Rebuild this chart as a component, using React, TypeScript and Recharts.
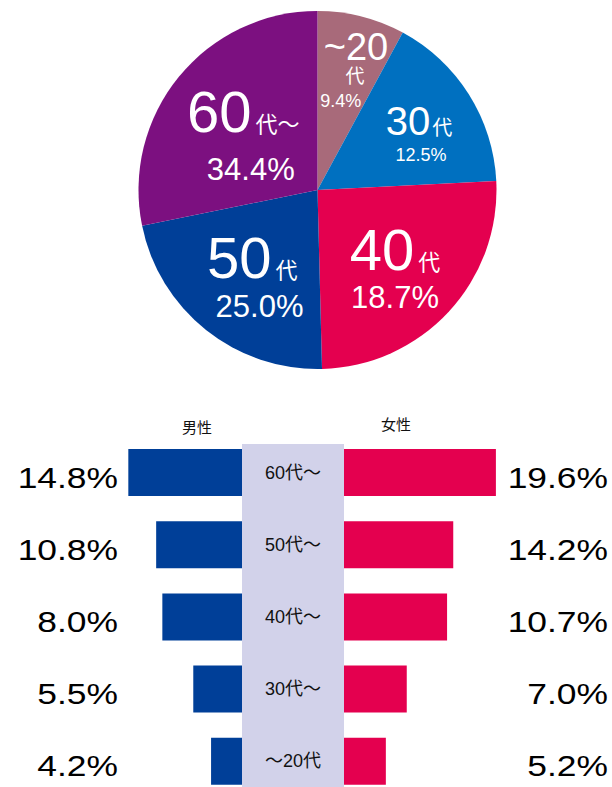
import React from "react";
import { PieChart, Pie, Cell, BarChart, Bar, XAxis, YAxis } from "recharts";

// pie: slice sizes as drawn, and the label texts printed on them
const pieNums = ["~20", "30", "40", "50", "60"];
const pieSuffix = ["代", "代", "代", "代", "代～"];
const pieShare = [7.9, 16.3, 25.4, 22.2, 28.2];
const pieText = ["9.4%", "12.5%", "18.7%", "25.0%", "34.4%"];

// butterfly bars (top row first)
const ageGroups = ["60代～", "50代～", "40代～", "30代～", "～20代"];
const maleBar = [14.7, 11.1, 10.3, 6.3, 4.0];
const femaleBar = [19.6, 14.1, 13.3, 8.1, 5.4];
const maleText = ["14.8%", "10.8%", "8.0%", "5.5%", "4.2%"];
const femaleText = ["19.6%", "14.2%", "10.7%", "7.0%", "5.2%"];

const FONT = "'Liberation Sans', Arial, 'Noto Sans CJK JP', sans-serif";
const pieColors = ["#A86A7A", "#0070C0", "#E4004F", "#003F98", "#7C1080"];
const MALE = "#003F98";
const FEMALE = "#E4004F";
const BAND = "#D2D2EA";

// label placement relative to the pie centre
const pieLabelLayout = [
  { x: 38.5, y: -130, num: 38, suf: 19, sx: 37.5, sy: -107, px: 23.3, py: -83, pct: 18 },
  { x: 101.5, y: -55, num: 40, suf: 20, gap: 2, px: 103.5, py: -29, pct: 18 },
  { x: 77.5, y: 80, num: 58, suf: 22, gap: 4, px: 77.5, py: 118, pct: 31 },
  { x: -65.2, y: 88, num: 58, suf: 22, gap: 4, px: -58, py: 127, pct: 31 },
  { x: -74.2, y: -58, num: 58, suf: 22, gap: 4, px: -66.7, py: -10, pct: 31 },
];

const pieRows = pieNums.map((n, i) => ({
  name: n + pieSuffix[i],
  share: pieShare[i],
}));

const rows = ageGroups.map((age, i) => ({
  age,
  male: maleBar[i],
  female: femaleBar[i],
}));

function renderPieLabel(props: any) {
  const { cx, cy, index } = props;
  const l: any = pieLabelLayout[index];
  const common = { fill: "#fff", fontFamily: FONT, textAnchor: "middle" as const };
  if (index === 0) {
    return (
      <g>
        <text {...common} x={cx + l.x} y={cy + l.y} fontSize={l.num}>
          {pieNums[index]}
        </text>
        <text {...common} x={cx + l.sx} y={cy + l.sy} fontSize={l.suf}>
          {pieSuffix[index]}
        </text>
        <text {...common} x={cx + l.px} y={cy + l.py} fontSize={l.pct}>
          {pieText[index]}
        </text>
      </g>
    );
  }
  return (
    <g>
      <text {...common} x={cx + l.x} y={cy + l.y} fontSize={l.num}>
        <tspan>{pieNums[index]}</tspan>
        <tspan dx={l.gap} fontSize={l.suf}>
          {pieSuffix[index]}
        </tspan>
      </text>
      <text {...common} x={cx + l.px} y={cy + l.py} fontSize={l.pct}>
        {pieText[index]}
      </text>
    </g>
  );
}

const pctTick = (texts: string[], shift: number) => (props: any) => {
  const { x, y, index } = props;
  return (
    <text
      transform={`translate(${x + shift},${y + 15.5}) scale(1.18,1)`}
      textAnchor="end"
      fontSize={30}
      fontFamily={FONT}
      fill="#000"
    >
      {texts[index]}
    </text>
  );
};

const BandTick = (props: any) => {
  const { x, y, payload } = props;
  return (
    <text x={x} y={y + 6.5} textAnchor="middle" fontSize={18} fontFamily={FONT} fill="#111">
      {payload.value}
    </text>
  );
};

export default function App() {
  return (
    <div
      style={{
        position: "absolute",
        left: 0,
        top: 0,
        width: 612,
        height: 787,
        overflow: "hidden",
        background: "#fff",
        fontFamily: FONT,
      }}
    >
      <div style={{ position: "absolute", left: 0, top: 0 }}>
        <PieChart width={612} height={380} margin={{ top: 0, right: 0, bottom: 0, left: 0 }}>
          <Pie
            data={pieRows}
            dataKey="share"
            nameKey="name"
            cx={317.5}
            cy={190}
            outerRadius={179}
            startAngle={90}
            endAngle={-270}
            stroke="none"
            label={renderPieLabel}
            labelLine={false}
            isAnimationActive={false}
          >
            {pieRows.map((_, i) => (
              <Cell key={i} fill={pieColors[i]} />
            ))}
          </Pie>
        </PieChart>
      </div>

      {/* centre band behind the age labels */}
      <div
        style={{
          position: "absolute",
          left: 242,
          top: 444,
          width: 102,
          height: 343,
          background: BAND,
        }}
      />

      <div
        style={{
          position: "absolute",
          left: 197,
          top: 426,
          transform: "translate(-50%,-50%)",
          fontSize: 15,
          color: "#111",
          whiteSpace: "nowrap",
        }}
      >
        男性
      </div>
      <div
        style={{
          position: "absolute",
          left: 396,
          top: 422.5,
          transform: "translate(-50%,-50%)",
          fontSize: 15,
          color: "#111",
          whiteSpace: "nowrap",
        }}
      >
        女性
      </div>

      {/* male side */}
      <div style={{ position: "absolute", left: 0, top: 436 }}>
        <BarChart
          layout="vertical"
          width={242}
          height={361}
          data={rows}
          margin={{ top: 0, right: 0, bottom: 0, left: 0 }}
          barCategoryGap={0}
        >
          <XAxis type="number" domain={[0, 15]} reversed hide />
          <YAxis
            type="category"
            dataKey="age"
            width={126}
            tickLine={false}
            axisLine={false}
            tickSize={0}
            tickMargin={8}
            interval={0}
            tick={pctTick(maleText, 0)}
          />
          <Bar dataKey="male" fill={MALE} barSize={47} isAnimationActive={false} />
        </BarChart>
      </div>

      {/* female side */}
      <div style={{ position: "absolute", left: 242, top: 436 }}>
        <BarChart
          layout="vertical"
          width={370}
          height={361}
          data={rows}
          margin={{ top: 0, right: 0, bottom: 0, left: 0 }}
          barCategoryGap={0}
        >
          <XAxis type="number" domain={[0, 20]} hide />
          <YAxis
            yAxisId="band"
            type="category"
            dataKey="age"
            orientation="left"
            width={102}
            tickLine={false}
            axisLine={false}
            tickSize={0}
            tickMargin={51}
            interval={0}
            tick={BandTick}
          />
          <YAxis
            yAxisId="pct"
            type="category"
            dataKey="age"
            orientation="right"
            width={113}
            tickLine={false}
            axisLine={false}
            tickSize={0}
            tickMargin={0}
            interval={0}
            tick={pctTick(femaleText, 109)}
          />
          <Bar yAxisId="band" dataKey="female" fill={FEMALE} barSize={47} isAnimationActive={false} />
        </BarChart>
      </div>
    </div>
  );
}
